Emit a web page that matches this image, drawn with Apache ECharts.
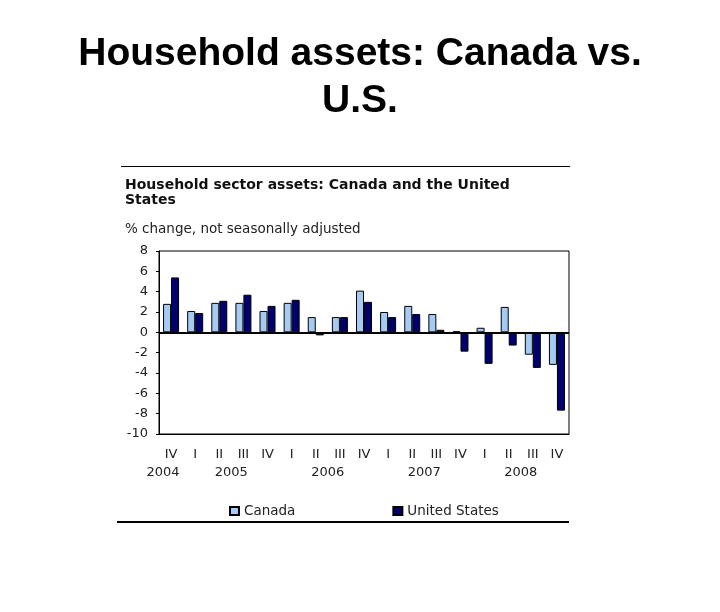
<!DOCTYPE html>
<html><head><meta charset="utf-8">
<script src="https://cdn.jsdelivr.net/npm/echarts@6/dist/echarts.min.js"></script>
<style>html,body{margin:0;padding:0;background:#fff}#c{width:720px;height:612px}</style>
</head><body><div id="c"></div>
<script>
const quarters = ['IV','I','II','III','IV','I','II','III','IV','I','II','III','IV','I','II','III','IV'];
const yearLabels = [[0,'2004'],[2.5,'2005'],[6.5,'2006'],[10.5,'2007'],[14.5,'2008']];
const canada = [2.8, 2.1, 2.9, 2.9, 2.1, 2.9, 1.5, 1.5, 4.1, 2.0, 2.6, 1.8, 0.1, 0.45, 2.5, -2.2, -3.2];
const unitedStates = [5.4, 1.9, 3.1, 3.7, 2.6, 3.2, -0.3, 1.5, 3.0, 1.5, 1.8, 0.25, -1.9, -3.1, -1.3, -3.5, -7.7];
const yTicks = {min: -10, max: 8, interval: 2};

const chart = echarts.init(document.getElementById('c'), null, {renderer: 'canvas'});
const txt = 'DejaVu Sans, Liberation Sans, Arial, sans-serif';
chart.setOption({
  animation: false,
  backgroundColor: '#fff',
  title: [{
    text: 'Household assets: Canada vs.\nU.S.',
    left: 'center', top: 26,
    textStyle: {fontFamily: 'Liberation Sans, Arial, sans-serif', fontWeight: 'bold', fontSize: 39, lineHeight: 47, color: '#000'}
  }, {
    text: 'Household sector assets: Canada and the United\nStates',
    left: 120, top: 173,
    textStyle: {fontFamily: txt, fontWeight: 'bold', fontSize: 14, lineHeight: 15, color: '#111'}
  }, {
    text: '% change, not seasonally adjusted',
    left: 120, top: 217,
    textStyle: {fontFamily: txt, fontWeight: 'normal', fontSize: 13.5, color: '#222'}
  }],
  graphic: [
    {type: 'rect', shape: {x: 121, y: 166, width: 449, height: 1}, style: {fill: '#000'}},
    {type: 'rect', shape: {x: 117, y: 521, width: 452, height: 2}, style: {fill: '#000'}}
  ],
  legend: {
    data: ['Canada', 'United States'],
    left: 224, top: 499, itemGap: 97, itemWidth: 9, itemHeight: 8,
    icon: 'rect',
    textStyle: {fontFamily: txt, fontSize: 13.5, color: '#222'}
  },
  grid: {left: 159, right: 151, top: 251, bottom: 178, show: true, borderColor: '#000', borderWidth: 1, containLabel: false},
  xAxis: [{
    type: 'category', data: quarters,
    axisLine: {onZero: false, show: true, lineStyle: {color: '#000'}},
    axisTick: {show: false},
    axisLabel: {interval: 0, margin: 14, fontFamily: txt, fontSize: 13, color: '#222'}
  }, {
    type: 'value', min: -0.5, max: 16.5, interval: 0.5, position: 'bottom',
    gridIndex: 0,
    axisLine: {show: false, onZero: false}, axisTick: {show: false}, splitLine: {show: false},
    axisLabel: {
      margin: 32, fontFamily: txt, fontSize: 13, color: '#222',
      showMinLabel: true, showMaxLabel: true,
      formatter: function (v) {
        for (const [p, y] of yearLabels) { if (Math.abs(p - v) < 0.01) return p === 0 ? '{l|' + y + '}' : y; }
        return '';
      },
      rich: {l: {padding: [0, 16, 0, 0], fontFamily: txt, fontSize: 13, color: '#222'}}
    }
  }],
  yAxis: {
    type: 'value', min: yTicks.min, max: yTicks.max, interval: yTicks.interval,
    axisLine: {show: true, onZero: false, lineStyle: {color: '#000'}},
    axisTick: {show: true, length: 3, lineStyle: {color: '#000'}},
    splitLine: {show: false},
    axisLabel: {margin: 11, fontFamily: txt, fontSize: 13, color: '#222'}
  },
  series: [{
    name: 'Canada', type: 'bar', data: canada, barWidth: 8, barGap: '0%',
    itemStyle: {color: '#a6cbf2', borderColor: '#000', borderWidth: 1},
    markLine: {
      silent: true, symbol: 'none', label: {show: false},
      lineStyle: {color: '#000', width: 2, type: 'solid'},
      data: [{yAxis: 0}]
    }
  }, {
    name: 'United States', type: 'bar', data: unitedStates, barWidth: 8, barGap: '0%',
    itemStyle: {color: '#00006e', borderColor: '#000', borderWidth: 1}
  }]
});
</script></body></html>
